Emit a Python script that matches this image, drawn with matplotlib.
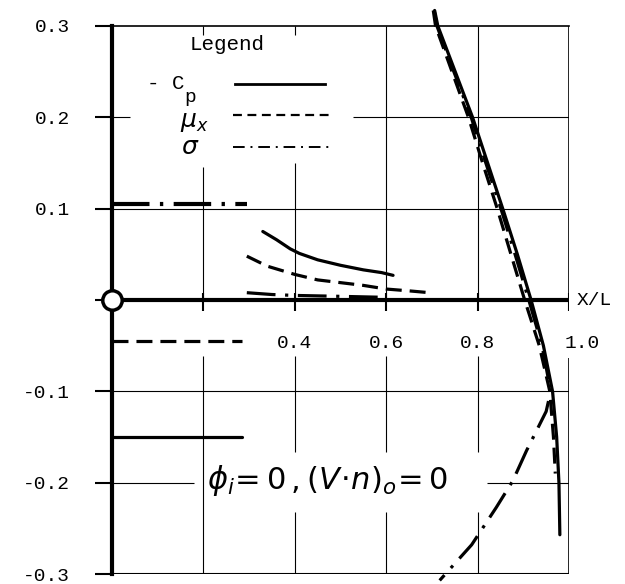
import matplotlib.pyplot as plt

# constant values over the forward part of the body
cp_flat_x = [0.0, 0.285]
cp_flat_y = [-0.150, -0.150]
mu_flat_x = [0.0, 0.285]
mu_flat_y = [-0.045, -0.045]
sig_flat_x = [0.0, 0.295]
sig_flat_y = [0.105, 0.105]

# mid-body decay
cp_mid_x = [0.33, 0.36, 0.39, 0.41, 0.45, 0.50, 0.55, 0.59, 0.615]
cp_mid_y = [0.075, 0.066, 0.056, 0.051, 0.044, 0.038, 0.033, 0.030, 0.027]
mu_mid_x = [0.295, 0.34, 0.40, 0.45, 0.50, 0.55, 0.60, 0.65, 0.695]
mu_mid_y = [0.048, 0.037, 0.028, 0.022, 0.019, 0.016, 0.012, 0.010, 0.008]
sig_mid_x = [0.295, 0.35, 0.40, 0.50, 0.59]
sig_mid_y = [0.008, 0.006, 0.005, 0.004, 0.003]

# trailing-edge region
cp_te_x = [0.706, 0.713, 0.751, 0.789, 0.822, 0.855, 0.887, 0.917, 0.944, 0.964, 0.973, 0.978, 0.980]
cp_te_y = [0.317, 0.30, 0.25, 0.20, 0.15, 0.10, 0.05, 0.0, -0.05, -0.10, -0.15, -0.20, -0.257]
mu_te_x = [0.703, 0.708, 0.744, 0.780, 0.811, 0.843, 0.873, 0.903, 0.935, 0.958, 0.966, 0.970]
mu_te_y = [0.317, 0.30, 0.25, 0.20, 0.15, 0.10, 0.05, 0.0, -0.05, -0.10, -0.15, -0.19]
sig_te_x = [0.705, 0.711, 0.748, 0.786, 0.818, 0.851, 0.882, 0.912, 0.941, 0.960,
            0.950, 0.907, 0.877, 0.841, 0.787, 0.717]
sig_te_y = [0.317, 0.30, 0.25, 0.20, 0.15, 0.10, 0.05, 0.0, -0.05, -0.10,
            -0.122, -0.165, -0.198, -0.227, -0.268, -0.307]

y_ticks = [-0.3, -0.2, -0.1, 0.0, 0.1, 0.2, 0.3]
y_labels = ["-0.3", "-0.2", "-0.1", "", "0.1", "0.2", "0.3"]
x_ticks = [0.2, 0.4, 0.6, 0.8, 1.0]
x_labels = ["0.4", "0.6", "0.8", "1.0"]

MONO = "Liberation Mono"

fig = plt.figure(figsize=(6.25, 5.84), dpi=100)
ax = fig.add_axes([0.1792, 0.0171, 0.7312, 0.9384])
ax.set_xlim(0, 1.0)
ax.set_ylim(-0.3, 0.3)

# hand-ruled grid, broken where the labels sit
grid_kw = dict(color="black", lw=0.8, zorder=1)
ax.hlines(0.2, 0.0, 0.04, **grid_kw)
ax.hlines(0.2, 0.527, 1.0, **grid_kw)
ax.hlines(0.1, 0.0, 1.0, **grid_kw)
ax.hlines(-0.1, 0.0, 1.0, **grid_kw)
ax.hlines(-0.2, 0.0, 0.18, **grid_kw)
ax.hlines(-0.2, 0.82, 1.0, **grid_kw)
ax.vlines(0.2, 0.146, 0.0, **grid_kw)
ax.vlines(0.2, -0.061, -0.3, **grid_kw)
ax.vlines(0.4, 0.15, 0.0, **grid_kw)
ax.vlines([0.4, 0.6, 0.8], -0.061, -0.166, **grid_kw)
ax.vlines([0.4, 0.6, 0.8], -0.232, -0.3, **grid_kw)
ax.vlines([0.6, 0.8], 0.3, 0.0, **grid_kw)
ax.vlines([0.2, 0.4], 0.3, 0.29, **grid_kw)
ax.vlines(1.0, 0.3, 0.0, color="black", lw=1.2, zorder=1)
ax.vlines(1.0, -0.063, -0.3, color="black", lw=1.2, zorder=1)
ax.axhline(-0.3, color="black", lw=1.5, zorder=1)

for s in ["right", "bottom"]:
    ax.spines[s].set_visible(False)
ax.spines["top"].set_linewidth(1.2)
ax.spines["left"].set_linewidth(3.0)
ax.spines["left"].set_zorder(4)

ax.set_yticks(y_ticks)
ax.set_yticklabels(y_labels, family=MONO, fontsize=14)
ax.tick_params(axis="y", direction="out", length=12, width=1.5, pad=18)
ax.set_xticks([])

# X/L axis through the origin
ax.axhline(0.0, color="black", lw=3.0, zorder=4)
ax.vlines(x_ticks, -0.012, 0.008, color="black", lw=1.5, zorder=4)
for xt, lab in zip(x_ticks[1:], x_labels):
    off = 0.028 if lab == "1.0" else 0.0
    ax.text(xt + off, -0.048, lab, family=MONO, fontsize=14, ha="center", va="center")
ax.text(1.016, 0.0, "X/L", family=MONO, fontsize=14, ha="left", va="center",
        clip_on=False)
ax.plot(0, 0, "o", ms=14, mfc="white", mec="black", mew=2.5, clip_on=False, zorder=6)

solid = dict(color="black", lw=2.3, ls="-", solid_capstyle="round", zorder=3)
dashed = dict(color="black", lw=2.3, dashes=(5, 2.5), zorder=3)
dashdot = dict(color="black", lw=2.3, dashes=(9, 3, 1, 3), zorder=3)

ax.plot(cp_flat_x, cp_flat_y, **solid)
ax.plot(cp_mid_x, cp_mid_y, **solid)
ax.plot(cp_te_x, cp_te_y, **solid, clip_on=False)

ax.plot(mu_flat_x, mu_flat_y, **dashed)
ax.plot(mu_mid_x, mu_mid_y, **dashed)
ax.plot(mu_te_x, mu_te_y, **dashed, clip_on=False)

ax.plot(sig_flat_x, sig_flat_y, color="black", lw=3.0, dashes=(9, 2.5, 0.8, 2.5), zorder=3)
ax.plot(sig_mid_x, sig_mid_y, **dashdot)
ax.plot(sig_te_x, sig_te_y, **dashdot, clip_on=False)

# legend block
ax.text(0.17, 0.280, "Legend", family=MONO, fontsize=15, ha="left", va="center")
ax.text(0.077, 0.237, "- C", family=MONO, fontsize=15, ha="left", va="center")
ax.text(0.158, 0.222, "p", family=MONO, fontsize=14, ha="left", va="center")
ax.text(0.148, 0.195, r"$\mu_x$", fontsize=18, ha="left", va="center")
ax.text(0.150, 0.167, r"$\sigma$", fontsize=18, ha="left", va="center")
ax.plot([0.269, 0.466], [0.237, 0.237], color="black", lw=2.0)
ax.plot([0.265, 0.480], [0.203, 0.203], color="black", lw=1.6, dashes=(4, 2.5))
ax.plot([0.265, 0.484], [0.168, 0.168], color="black", lw=1.4, dashes=(6, 3, 1, 3))

ax.text(0.472, -0.198, r"$\phi_i\!=0\,,(V\!\cdot\! n)_o\!=0$", fontsize=22,
        ha="center", va="center")

fig.savefig("out.png", dpi=100)
